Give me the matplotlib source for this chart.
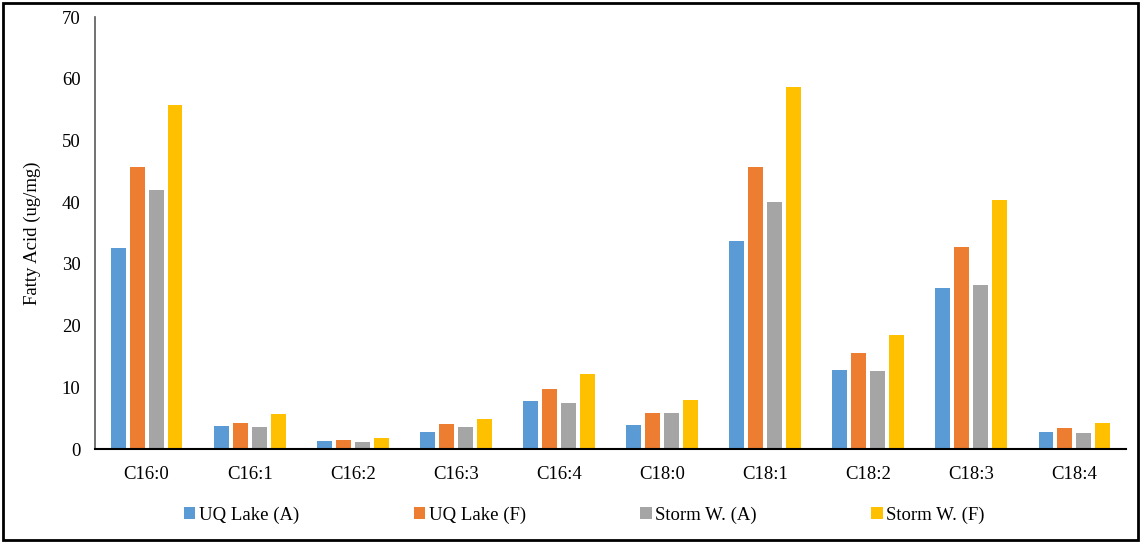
import matplotlib
matplotlib.use("Agg")
import matplotlib.pyplot as plt
import numpy as np
from matplotlib.patches import Rectangle

categories = ["C16:0", "C16:1", "C16:2", "C16:3", "C16:4", "C18:0", "C18:1", "C18:2", "C18:3", "C18:4"]
series_names = ["UQ Lake (A)", "UQ Lake (F)", "Storm W. (A)", "Storm W. (F)"]
uq_lake_a = [32.6, 3.7, 1.3, 2.8, 7.8, 3.9, 33.7, 12.8, 26.1, 2.8]
uq_lake_f = [45.7, 4.2, 1.5, 4.1, 9.7, 5.8, 45.7, 15.6, 32.7, 3.4]
storm_w_a = [42.0, 3.6, 1.1, 3.6, 7.5, 5.8, 40.0, 12.6, 26.6, 2.6]
storm_w_f = [55.8, 5.7, 1.8, 4.9, 12.2, 7.9, 58.7, 18.5, 40.4, 4.2]
colors = ["#5B9BD5", "#ED7D31", "#A5A5A5", "#FFC000"]
y_ticks = [0, 10, 20, 30, 40, 50, 60, 70]

plt.rcParams['font.family'] = ['Liberation Serif', 'DejaVu Serif']

W, H = 1141, 543
fig = plt.figure(figsize=(W / 100, H / 100), dpi=100)
ax = fig.add_axes([95 / W, 1 - 449 / H, (1126 - 95) / W, (449 - 17) / H])

x = np.arange(len(categories))
data = [uq_lake_a, uq_lake_f, storm_w_a, storm_w_f]
bw = 0.145
step = 0.184
for i, (vals, c, name) in enumerate(zip(data, colors, series_names)):
    ax.bar(x + (i - 1.5) * step, vals, width=bw, color=c, label=name)

ax.set_xlim(-0.5, len(categories) - 0.5)
ax.set_ylim(0, 70)
ax.set_yticks(y_ticks)
ax.set_xticks(x)
ax.set_xticklabels(categories)
ax.tick_params(axis='both', length=0, labelsize=13.5, colors='black')
ax.tick_params(axis='x', pad=12)
ax.tick_params(axis='y', pad=10.5)
for s in ['top', 'right']:
    ax.spines[s].set_visible(False)
ax.spines['left'].set_color('#595959')
ax.spines['left'].set_linewidth(1.2)
ax.spines['bottom'].set_color('black')
ax.spines['bottom'].set_linewidth(1.5)
ax.set_ylabel("Fatty Acid (ug/mg)", fontsize=13.5, labelpad=15)

leg = fig.legend(loc='center', bbox_to_anchor=(584.5 / W, 1 - 515 / H), ncol=4, frameon=False,
                 fontsize=13.5, handlelength=0.6, handleheight=0.6, handletextpad=0.2,
                 columnspacing=6.1)

fig.patches.append(Rectangle((3 / W, 3 / H), 1 - 6 / W, 1 - 6 / H, transform=fig.transFigure,
                             fill=False, edgecolor='black', linewidth=2))

fig.savefig("out.png", dpi=100)
